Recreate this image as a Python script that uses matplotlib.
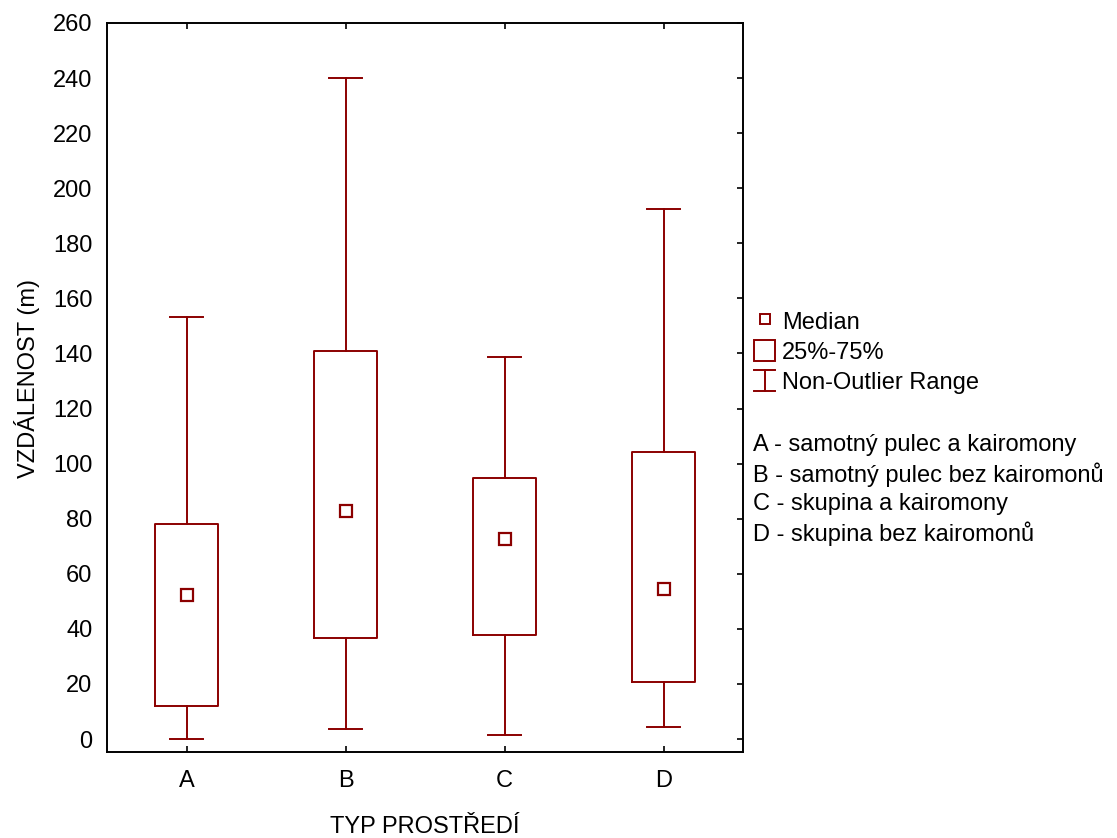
import matplotlib
matplotlib.use("Agg")
import matplotlib.pyplot as plt
from matplotlib.legend_handler import HandlerBase
from matplotlib.lines import Line2D
from matplotlib.patches import Rectangle

plt.rcParams['font.family'] = ['Liberation Sans', 'DejaVu Sans']

# data
groups = ['A', 'B', 'C', 'D']
whisk_lo = [0.0, 3.6, 1.5, 4.3]
q1 = [12.0, 36.6, 37.7, 20.7]
medians = [52.3, 82.8, 72.8, 54.5]
q3 = [78.2, 140.8, 94.7, 104.4]
whisk_hi = [153.2, 240.0, 138.9, 192.4]
descriptions = ['A - samotný pulec a kairomony',
                'B - samotný pulec bez kairomonů',
                'C - skupina a kairomony',
                'D - skupina bez kairomonů']

col = '#8B0000'
fs = 17

fig = plt.figure(figsize=(11.17, 8.38), dpi=100)
ax = fig.add_axes([0.0958, 0.1026, 0.5694, 0.8700])

stats = []
for i, g in enumerate(groups):
    stats.append(dict(label=g, whislo=whisk_lo[i], q1=q1[i], med=medians[i],
                      q3=q3[i], whishi=whisk_hi[i], fliers=[]))

pos = list(range(len(groups)))
ax.bxp(stats, positions=pos, widths=0.4, capwidths=0.21, showfliers=False,
       boxprops=dict(color=col, linewidth=1.4),
       whiskerprops=dict(color=col, linewidth=1.4),
       capprops=dict(color=col, linewidth=1.4),
       medianprops=dict(linewidth=0))
ax.plot(pos, medians, 's', ms=8, mfc='white', mec=col, mew=1.6, zorder=5)

ax.set_xlim(-0.5, 3.5)
ax.set_ylim(-4.7, 260)
ax.set_yticks(range(0, 261, 20))
ax.set_xticks(pos)
ax.set_xticklabels(groups)
ax.tick_params(axis='both', labelsize=fs, direction='in', length=4, width=1.2,
               top=True, right=True)
ax.tick_params(axis='y', left=False, pad=10.5)
ax.tick_params(axis='x', pad=13)
for s in ax.spines.values():
    s.set_linewidth(1.4)

ax.set_ylabel('VZDÁLENOST (m)', fontsize=fs)
ax.yaxis.set_label_coords(-0.105, 0.512)
ax.set_xlabel('TYP PROSTŘEDÍ', fontsize=fs, labelpad=17)


class BoxHandler(HandlerBase):
    def create_artists(self, legend, orig, xd, yd, w, h, fontsize, trans):
        r = Rectangle((-xd, -yd), w, h, fill=False, edgecolor=col,
                      linewidth=1.4, transform=trans)
        return [r]


class RangeHandler(HandlerBase):
    def create_artists(self, legend, orig, xd, yd, w, h, fontsize, trans):
        x0, y0 = -xd, -yd
        y1 = y0 + h
        xm = x0 + w / 2
        lines = [Line2D([xm, xm], [y0, y1]),
                 Line2D([x0, x0 + w], [y0, y0]),
                 Line2D([x0, x0 + w], [y1, y1])]
        for ln in lines:
            ln.set_color(col)
            ln.set_linewidth(1.4)
            ln.set_transform(trans)
        return lines


h_med = Line2D([], [], marker='s', ls='none', ms=7.5, mfc='white', mec=col, mew=1.4)
h_box = Rectangle((0, 0), 1, 1)
h_rng = Line2D([], [])
fig.legend([h_med, h_box, h_rng], ['Median', '25%-75%', 'Non-Outlier Range'],
           handler_map={Rectangle: BoxHandler(), h_rng: RangeHandler()},
           loc='upper left', bbox_to_anchor=(0.675, 0.630), frameon=False,
           fontsize=fs, borderpad=0, borderaxespad=0, handlelength=0.9,
           handleheight=1.0, handletextpad=0.3, labelspacing=0.27)

for i, d in enumerate(descriptions):
    fig.text(0.674, 1 - (445 + i * 29.5) / 838, d, fontsize=fs, va='center', ha='left')

fig.savefig('out.png', dpi=100)
